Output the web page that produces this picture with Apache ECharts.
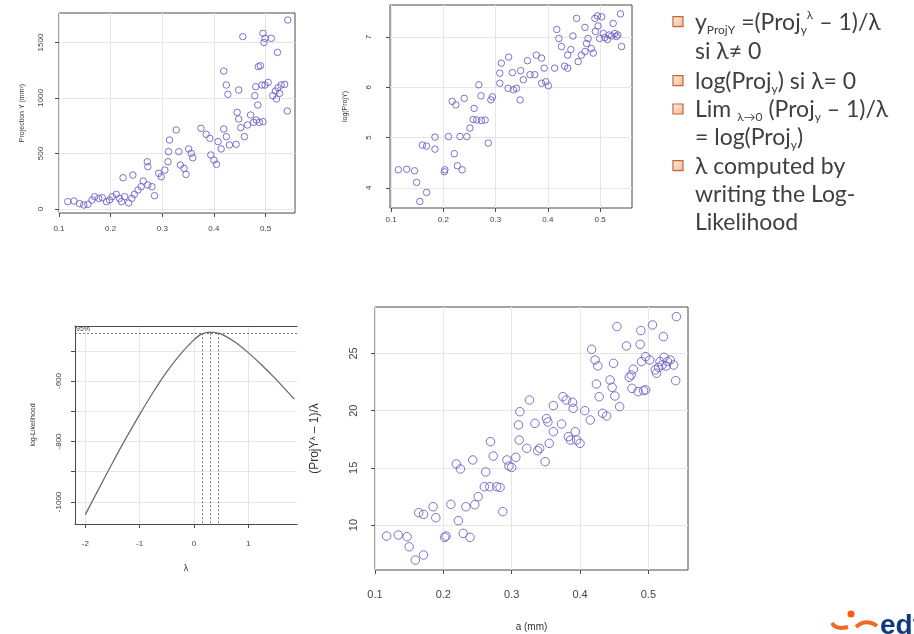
<!DOCTYPE html>
<html>
<head>
<meta charset="utf-8">
<script src="https://cdn.jsdelivr.net/npm/echarts@6/dist/echarts.min.js"></script>
<style>
html, body { margin:0; padding:0; background:#fff; }
#main { width:914px; height:634px; }
</style>
</head>
<body>
<div id="main"></div>
<script>
// ---- data ----
// top left : Projection Y vs a
var aA = [0.117,0.129,0.140,0.148,0.156,0.164,0.169,0.177,0.184,0.192,
          0.198,0.203,0.211,0.217,0.221,0.227,0.235,0.241,0.246,0.253,
          0.259,0.263,0.272,0.280,0.285,0.224,0.243,0.272,0.271,0.293,
          0.298,0.305,0.311,0.312,0.314,0.327,0.332,0.335,0.342,0.346,
          0.351,0.356,0.359,0.375,0.385,0.392,0.394,0.400,0.405,0.408,
          0.414,0.419,0.424,0.430,0.443,0.445,0.448,0.452,0.419,0.424,
          0.427,0.448,0.459,0.465,0.471,0.477,0.482,0.479,0.481,0.485,
          0.486,0.493,0.495,0.499,0.505,0.456,0.495,0.499,0.497,0.511,
          0.523,0.514,0.519,0.524,0.530,0.537,0.542,0.527,0.521,0.543,
          0.488,0.490];
var projY = [66,72,48,36,42,81,111,96,102,66,
             81,111,132,96,66,111,54,96,132,171,
             201,252,216,201,120,282,306,381,426,321,
             291,351,426,517,622,712,517,396,366,312,
             541,502,462,727,673,637,487,441,402,607,
             541,721,652,577,583,871,811,733,1243,1117,
             1033,1072,652,757,847,781,802,1021,1102,937,
             1282,1117,787,1117,1141,1553,1583,1538,1501,1538,
             1411,1021,1063,1093,1117,1123,883,1042,991,1703,
             781,1291];

// top middle : log(ProjY) vs a
var aB = [0.114,0.130,0.145,0.149,0.155,0.168,0.160,0.168,0.184,0.184,
          0.202,0.203,0.210,0.221,0.227,0.232,0.236,0.245,0.217,0.224,
          0.240,0.251,0.257,0.259,0.268,0.272,0.264,0.273,0.280,0.286,
          0.291,0.294,0.308,0.308,0.311,0.325,0.332,0.324,0.334,0.340,
          0.347,0.348,0.353,0.361,0.366,0.375,0.378,0.388,0.388,0.393,
          0.396,0.401,0.413,0.417,0.421,0.426,0.432,0.438,0.444,0.438,
          0.448,0.455,0.458,0.464,0.471,0.474,0.477,0.471,0.483,0.487,
          0.490,0.495,0.491,0.496,0.503,0.506,0.509,0.514,0.517,0.522,
          0.525,0.528,0.531,0.534,0.539,0.541,0.499];
var logProjY = [4.36,4.37,4.34,4.11,3.73,3.91,4.85,4.83,5.01,4.77,
                4.32,4.36,5.02,4.68,4.44,5.02,4.36,5.02,5.72,5.65,
                5.78,5.19,5.36,5.58,6.05,5.83,5.35,5.34,5.35,4.89,
                5.75,5.81,6.08,6.28,6.48,6.60,6.29,5.98,5.95,5.98,
                5.75,6.33,6.15,6.53,6.25,6.25,6.64,6.58,6.08,6.38,
                6.11,6.03,6.38,7.15,6.97,6.81,6.42,6.64,6.75,6.38,
                7.02,7.37,6.51,6.64,7.19,6.87,6.97,6.71,6.77,6.68,
                7.37,7.42,7.11,7.22,7.40,7.07,6.99,6.95,7.04,7.02,
                7.27,7.07,7.01,7.04,7.46,6.81,6.97];

// bottom left : Box-Cox log-likelihood profile
var lambdas = [-2,-1.75,-1.5,-1.25,-1,-0.75,-0.5,-0.25,0,0.1,0.2,0.3,0.4,0.5,0.75,1,1.25,1.5,1.75,1.85];
var logLik  = [-1042,-956,-871,-789,-711,-637,-570,-512,-464,-449,-441,-438,-439.5,-444,-470,-506,-547,-592,-640,-660];
var ciLambda = [0.16, 0.30, 0.44];
var ciLevel = -442;

// bottom right : transformed projection vs a
var aD = [0.117,0.134,0.147,0.150,0.159,0.171,0.164,0.171,0.185,0.189,
          0.202,0.204,0.211,0.222,0.229,0.239,0.219,0.225,0.243,0.233,
          0.246,0.251,0.260,0.262,0.269,0.273,0.268,0.278,0.283,0.287,
          0.293,0.296,0.300,0.306,0.310,0.312,0.311,0.322,0.326,0.334,
          0.338,0.341,0.349,0.351,0.353,0.355,0.361,0.361,0.373,0.375,
          0.380,0.383,0.386,0.389,0.390,0.393,0.395,0.400,0.407,0.415,
          0.417,0.422,0.426,0.424,0.428,0.433,0.439,0.444,0.447,0.449,
          0.451,0.458,0.454,0.468,0.472,0.475,0.476,0.478,0.485,0.488,
          0.490,0.489,0.493,0.496,0.496,0.502,0.506,0.512,0.515,0.517,
          0.520,0.522,0.523,0.528,0.532,0.537,0.540,0.541,0.510,0.526];
var boxcoxY = [9.04,9.13,8.98,8.10,6.94,7.38,11.08,10.93,11.60,10.64,
               8.92,9.04,11.81,10.38,9.27,8.92,15.34,14.90,15.69,11.60,
               11.78,12.48,13.35,14.64,17.29,16.03,13.35,13.35,13.29,11.17,
               15.69,15.16,15.04,15.92,18.75,19.91,17.43,16.71,20.93,18.89,
               16.50,16.71,15.54,19.30,19.01,17.14,18.16,20.44,18.83,21.22,
               20.93,17.73,17.43,20.73,20.20,18.16,17.43,17.14,20.00,19.18,
               25.36,24.43,23.91,22.33,21.22,19.77,19.53,22.68,22.04,24.14,
               21.28,20.35,27.35,25.66,22.92,23.12,21.95,23.62,21.66,25.80,
               24.29,27.00,21.75,21.81,24.72,24.43,27.49,23.27,23.79,24.29,
               23.99,26.47,24.66,24.29,24.43,23.99,22.62,28.22,23.56,23.90];

var aTicks = [0.1,0.2,0.3,0.4,0.5];
var projTicks = [0,500,1000,1500];
var logTicks = [4,5,6,7];
var lambdaTicks = [-2,-1,0,1];
var llTicks = [-1000,-900,-800,-700,-600,-500];
var llLabels = [-1000,-800,-600];
var bcTicks = [10,15,20,25];

// bullet text of the slide
var notes = [
    'y{s|ProjY} =(Proj{s|y}{p|λ} – 1)/λ',
    'si λ≠ 0',
    'log(Proj{s|y}) si λ= 0',
    'Lim {s|λ→0} (Proj{s|y} – 1)/λ',
    '= log(Proj{s|y})',
    'λ computed by',
    'writing the Log-',
    'Likelihood'
];

// ---- chart ----
var AXIS = '#4a4a4a', GRIDC = '#e6e6e6', PT = '#6e63c8';
var RFONT = 'Liberation Sans';

function zip(xs, ys) {
    var r = [];
    for (var i = 0; i < xs.length; i++) r.push([xs[i], ys[i]]);
    return r;
}

function ax(o) {
    return {
        type: 'value', gridIndex: o.g, min: o.min, max: o.max,
        minInterval: o.step, maxInterval: o.step,
        axisLine: {show: !!o.line, onZero: false, lineStyle: {color: AXIS}},
        axisTick: {show: true, customValues: o.ticks, length: 4, lineStyle: {color: AXIS}},
        axisLabel: {customValues: o.labels || o.ticks, fontSize: o.fs, color: '#444',
                    margin: o.margin, rotate: o.rotate || 0, fontFamily: RFONT,
                    formatter: function (v) { return String(v); }},
        splitLine: {show: true, lineStyle: {color: GRIDC, width: 1}},
        name: o.name, nameLocation: 'middle', nameGap: o.gap,
        nameTextStyle: {fontSize: o.nfs, color: '#333', fontFamily: RFONT, rich: o.rich}
    };
}

function pts(xi, data, size) {
    return {
        type: 'scatter', xAxisIndex: xi, yAxisIndex: xi, data: data,
        symbol: 'circle', symbolSize: size, silent: true,
        itemStyle: {color: 'rgba(0,0,0,0)', borderColor: PT, borderWidth: 1, opacity: 0.9}
    };
}

var boxBorder = {show: true, borderColor: AXIS, borderWidth: 1, backgroundColor: 'rgba(0,0,0,0)'};

// slide text as graphic elements
var noteY = [22.7, 51.7, 81.7, 110, 138, 166.7, 195, 222.7];
var bulletAt = [0, 2, 3, 5];
var graphic = [];
bulletAt.forEach(function (i) {
    graphic.push({
        type: 'rect', shape: {x: 673, y: noteY[i] - 6, width: 10, height: 10},
        style: {
            fill: {type: 'linear', x: 0, y: 0, x2: 1, y2: 1,
                   colorStops: [{offset: 0, color: '#fdf1e6'}, {offset: 1, color: '#f0b48c'}]},
            stroke: '#c3643a', lineWidth: 1.2
        }
    });
});
notes.forEach(function (t, i) {
    graphic.push({
        type: 'text', x: 695, y: noteY[i],
        style: {
            text: t, fill: '#404040', fontSize: 23, fontFamily: 'Lato',
            verticalAlign: 'middle', lineHeight: 27,
            rich: {
                s: {fontSize: 12, fill: '#404040', fontFamily: 'Lato', verticalAlign: 'bottom', lineHeight: 13},
                p: {fontSize: 12, fill: '#404040', fontFamily: 'Lato', verticalAlign: 'top', lineHeight: 13}
            }
        }
    });
});
// edf logo, cut by the slide edge
graphic.push(
    {type: 'circle', shape: {cx: 851, cy: 614, r: 3.5}, style: {fill: '#fe5815'}},
    {type: 'bezierCurve', shape: {x1: 832, y1: 623, cpx1: 836, cpy1: 630, x2: 848, y2: 627},
     style: {stroke: '#f26a21', lineWidth: 4, fill: null}},
    {type: 'bezierCurve', shape: {x1: 856, y1: 627, cpx1: 866, cpy1: 618, x2: 877, y2: 626},
     style: {stroke: '#f26a21', lineWidth: 4, fill: null}},
    {type: 'text', x: 880, y: 612, style: {text: 'edf', fill: '#10397f', fontSize: 28,
     fontWeight: 'bold', fontFamily: RFONT}}
);

var option = {
    animation: false,
    backgroundColor: '#fff',
    grid: [
        Object.assign({left: 59, top: 13, width: 236, height: 200}, boxBorder),
        Object.assign({left: 390, top: 5, width: 242, height: 203}, boxBorder),
        {left: 75, top: 326, width: 222, height: 198, show: false},
        Object.assign({left: 375, top: 307, width: 313, height: 263}, boxBorder)
    ],
    xAxis: [
        ax({g: 0, min: 0.1, max: 0.557, step: 0.05, ticks: aTicks, fs: 8, margin: 12}),
        ax({g: 1, min: 0.098, max: 0.561, step: 0.05, ticks: aTicks, fs: 8, margin: 8}),
        ax({g: 2, min: -2.19, max: 1.9, step: 1, ticks: lambdaTicks, fs: 8, margin: 16, line: true,
            name: 'λ', gap: 40, nfs: 9}),
        ax({g: 3, min: 0.1, max: 0.558, step: 0.05, ticks: aTicks, fs: 11, margin: 19,
            name: 'a (mm)', gap: 52, nfs: 10}),
        {type: 'value', gridIndex: 2, position: 'top', min: -2.19, max: 1.9,
         axisLine: {show: true, onZero: false, lineStyle: {color: AXIS}},
         axisTick: {show: false}, axisLabel: {show: false}, splitLine: {show: false}}
    ],
    yAxis: [
        ax({g: 0, min: -36, max: 1766, step: 250, ticks: projTicks, fs: 8, margin: 14, rotate: 90,
            name: 'Projection Y (mm²)', gap: 33, nfs: 7}),
        ax({g: 1, min: 3.6, max: 7.636, step: 0.5, ticks: logTicks, fs: 8, margin: 17, rotate: 90,
            name: 'log(ProjY)', gap: 41, nfs: 7}),
        ax({g: 2, min: -1073, max: -418, step: 100, ticks: llTicks, labels: llLabels, fs: 8, margin: 12,
            rotate: 90, line: true, name: 'log-Likelihood', gap: 38, nfs: 7}),
        ax({g: 3, min: 6.07, max: 29.06, step: 2.5, ticks: bcTicks, fs: 11, margin: 16, rotate: 90,
            name: '(ProjY{sup|λ} – 1)/λ', gap: 54, nfs: 12,
            rich: {sup: {fontSize: 8, verticalAlign: 'top', fontFamily: RFONT, color: '#333'}}})
    ],
    series: [
        pts(0, zip(aA, projY), 6.5),
        pts(1, zip(aB, logProjY), 6.5),
        {
            type: 'line', xAxisIndex: 2, yAxisIndex: 2, data: zip(lambdas, logLik),
            showSymbol: false, smooth: 0.3, silent: true,
            lineStyle: {color: '#666', width: 1.2},
            markLine: {
                silent: true, symbol: 'none',
                lineStyle: {color: '#555', type: [2, 2], width: 0.8},
                label: {show: false},
                data: [
                    {yAxis: ciLevel, label: {show: true, formatter: '95%', position: 'insideStartTop',
                     fontSize: 7, color: '#444', distance: 1, fontFamily: RFONT}}
                ].concat(ciLambda.map(function (l) {
                    return [{coord: [l, ciLevel]}, {coord: [l, -1073]}];
                }))
            }
        },
        pts(3, zip(aD, boxcoxY), 8.5)
    ],
    graphic: graphic
};

var chart = echarts.init(document.getElementById('main'));
chart.setOption(option);
</script>
</body>
</html>
